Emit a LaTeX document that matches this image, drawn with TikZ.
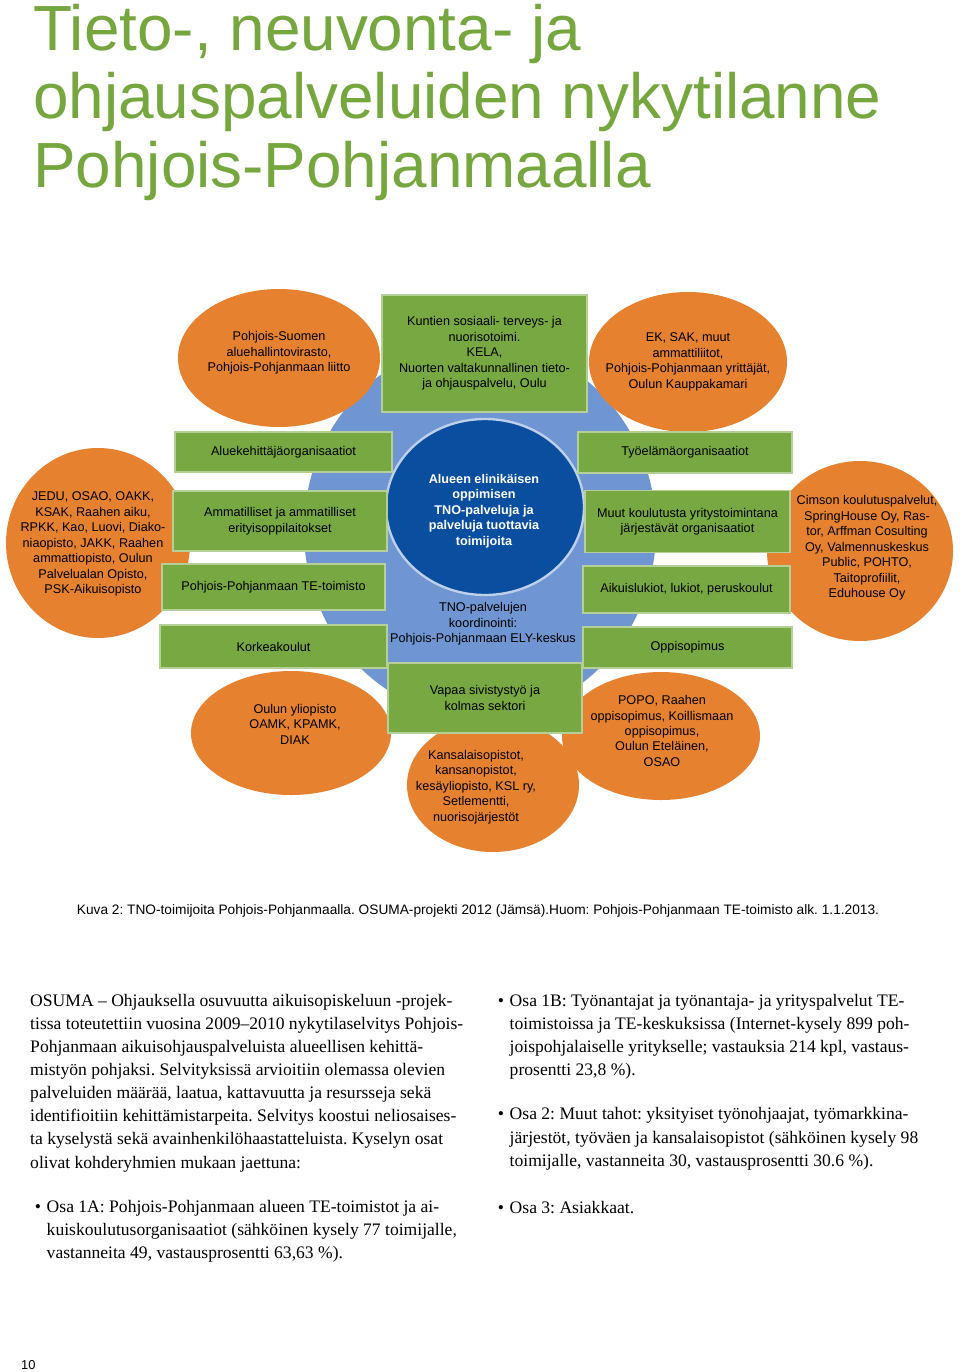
\documentclass[tikz,border=0pt]{standalone}
\usepackage{fontspec}
\setmainfont{Liberation Sans}
\newfontfamily\bodyfont{Liberation Serif}
\usetikzlibrary{shapes.geometric}
\frenchspacing

\definecolor{titlegreen}{RGB}{118,166,62}
\definecolor{tnogreen}{RGB}{119,168,66}
\definecolor{tnoorange}{RGB}{230,129,48}
\definecolor{tnoblue}{RGB}{10,78,160}
\definecolor{tnolight}{RGB}{111,150,210}

\begin{document}
\begin{tikzpicture}[x=0.03cm, y=-0.03cm,
  dtxt/.style={font=\fontsize{10.8}{13.2}\selectfont, align=center, inner sep=0pt},
  greenbox/.style={dtxt, rectangle, fill=tnogreen, draw=tnogreen!55!white, line width=1pt},
  blob/.style={ellipse, fill=tnoorange, inner sep=0pt},
  body/.style={font=\bodyfont\fontsize{15}{19.7}\selectfont, align=left, anchor=north west, inner sep=0pt},
  bulletmark/.style={font=\bodyfont\fontsize{15}{19.7}\selectfont, anchor=base, inner sep=0pt}]
  % page
  \fill[white] (0,0) rectangle (960,1372);
  \useasboundingbox (0,0) rectangle (960,1372);
  % title
  \node[anchor=north west, inner sep=0pt, align=left, text=titlegreen,
    font=\fontsize{54.5}{58.3}\selectfont] (title) at (33,4)
    {Tieto-, neuvonta- ja\\ohjauspalveluiden nykytilanne\\Pohjois-Pohjanmaalla};

  % blue background
  \node[ellipse, fill=tnolight, inner sep=0pt, minimum width=10.56cm, minimum height=11.28cm] (ring) at (480,530) {};
  \node[rectangle, fill=tnolight, inner sep=0pt, minimum width=5.85cm, minimum height=3.09cm] (coord) at (484.5,611.5) {};

  % orange groups
  \node[blob, minimum width=6.06cm, minimum height=4.14cm] (avi) at (279,358) {};
  \node[blob, minimum width=5.94cm, minimum height=4.2cm] (ek) at (688,362) {};
  \node[blob, minimum width=5.52cm, minimum height=5.7cm] (jedu) at (98,543) {};
  \node[blob, minimum width=5.58cm, minimum height=5.4cm] (cimson) at (860,551) {};
  \node[blob, minimum width=6.0cm, minimum height=3.72cm] (yliopisto) at (291,733) {};
  \node[blob, minimum width=5.16cm, minimum height=4.02cm] (kansal) at (493,785) {};
  \node[blob, minimum width=5.94cm, minimum height=3.84cm] (popo) at (661,736) {};

  % core
  \node[ellipse, fill=tnoblue, draw=white!55!tnolight, line width=2pt, inner sep=0pt,
    minimum width=5.94cm, minimum height=5.28cm] (core) at (485,507) {};

  % green boxes
  \node[greenbox, minimum width=6.15cm, minimum height=3.51cm] (kunnat) at (484.5,353.5)
    {Kuntien sosiaali- terveys- ja\\nuorisotoimi.\\KELA,\\Nuorten valtakunnallinen tieto-\\ja ohjauspalvelu, Oulu};
  \node[greenbox, minimum width=6.51cm, minimum height=1.2cm] (alueke) at (283.5,452) {Aluekehittäjäorganisaatiot};
  \node[greenbox, minimum width=6.42cm, minimum height=1.8cm] (ammat) at (280,521) {Ammatilliset ja ammatilliset\\erityisoppilaitokset};
  \node[greenbox, minimum width=6.69cm, minimum height=1.38cm] (tetoim) at (273.5,587) {Pohjois-Pohjanmaan TE-toimisto};
  \node[greenbox, minimum width=6.81cm, minimum height=1.29cm] (korkea) at (273.5,646.5) {Korkeakoulut};
  \node[greenbox, minimum width=6.42cm, minimum height=1.23cm] (tyoel) at (685,452.5) {Työelämäorganisaatiot};
  \node[greenbox, minimum width=6.15cm, minimum height=1.86cm] (muut) at (687.5,521.5) {Muut koulutusta yritystoimintana\\järjestävät organisaatiot};
  \node[greenbox, minimum width=6.21cm, minimum height=1.41cm] (aikuis) at (686.5,589.5) {Aikuislukiot, lukiot, peruskoulut};
  \node[greenbox, minimum width=6.27cm, minimum height=1.23cm] (oppiso) at (687.5,647.5) {Oppisopimus};
  \node[greenbox, minimum width=5.82cm, minimum height=2.1cm] (vapaa) at (485,698) {Vapaa sivistystyö ja\\kolmas sektori};

  % texts
  \node[dtxt, font={\fontsize{10.8}{13.2}\selectfont\bfseries}, text=white] (coretxt) at (484,511)
    {Alueen elinikäisen\\oppimisen\\TNO-palveluja ja\\palveluja tuottavia\\toimijoita};
  \node[dtxt] (coordtxt) at (483,624) {TNO-palvelujen\\koordinointi:\\Pohjois-Pohjanmaan ELY-keskus};
  \node[dtxt] (avitxt) at (279,353) {Pohjois-Suomen\\aluehallintovirasto,\\Pohjois-Pohjanmaan liitto};
  \node[dtxt] (ektxt) at (688,362) {EK, SAK, muut\\ammattiliitot,\\Pohjois-Pohjanmaan yrittäjät,\\Oulun Kauppakamari};
  \node[dtxt] (jedutxt) at (93,544) {JEDU, OSAO, OAKK,\\KSAK, Raahen aiku,\\RPKK, Kao, Luovi, Diako-\\niaopisto, JAKK, Raahen\\ammattiopisto, Oulun\\Palvelualan Opisto,\\PSK-Aikuisopisto};
  \node[dtxt] (cimsontxt) at (867,548) {Cimson koulutuspalvelut,\\SpringHouse Oy, Ras-\\tor, Arffman Cosulting\\Oy, Valmennuskeskus\\Public, POHTO,\\Taitoprofiilit,\\Eduhouse Oy};
  \node[dtxt] (yliopistotxt) at (295,724) {Oulun yliopisto\\OAMK, KPAMK,\\DIAK};
  \node[dtxt] (kansaltxt) at (476,787) {Kansalaisopistot,\\kansanopistot,\\kesäyliopisto, KSL ry,\\Setlementti,\\nuorisojärjestöt};
  \node[dtxt] (popotxt) at (662,731) {POPO, Raahen\\oppisopimus, Koillismaan\\oppisopimus,\\Oulun Eteläinen,\\OSAO};

  % caption
  \node[font=\fontsize{11.7}{14}\selectfont, inner sep=0pt] (caption) at (478,911)
    {Kuva 2: TNO-toimijoita Pohjois-Pohjanmaalla. OSUMA-projekti 2012 (Jämsä).Huom: Pohjois-Pohjanmaan TE-toimisto alk. 1.1.2013.};

  % body text
  \node[body] (intro) at (30,994) {OSUMA – Ohjauksella osuvuutta aikuisopiskeluun -projek-\\tissa toteutettiin vuosina 2009–2010 nykytilaselvitys Pohjois-\\Pohjanmaan aikuisohjauspalveluista alueellisen kehittä-\\mistyön pohjaksi. Selvityksissä arvioitiin olemassa olevien\\palveluiden määrää, laatua, kattavuutta ja resursseja sekä\\identifioitiin kehittämistarpeita. Selvitys koostui neliosaises-\\ta kyselystä sekä avainhenkilöhaastatteluista. Kyselyn osat\\olivat kohderyhmien mukaan jaettuna:};
  \node[bulletmark] (b1a) at (38,1212) {•};
  \node[body] (osa1a) at (46.5,1200) {Osa 1A: Pohjois-Pohjanmaan alueen TE-toimistot ja ai-\\kuiskoulutusorganisaatiot (sähköinen kysely 77 toimijalle,\\vastanneita 49, vastausprosentti 63,63 \%).};
  \node[bulletmark] (b1b) at (501,1006.5) {•};
  \node[body] (osa1b) at (509.5,994) {Osa 1B: Työnantajat ja työnantaja- ja yrityspalvelut TE-\\toimistoissa ja TE-keskuksissa (Internet-kysely 899 poh-\\joispohjalaiselle yritykselle; vastauksia 214 kpl, vastaus-\\prosentti 23,8 \%).};
  \node[bulletmark] (b2) at (501,1119.5) {•};
  \node[body] (osa2) at (509.5,1107.5) {Osa 2: Muut tahot: yksityiset työnohjaajat, työmarkkina-\\järjestöt, työväen ja kansalaisopistot (sähköinen kysely 98\\toimijalle, vastanneita 30, vastausprosentti 30.6 \%).};
  \node[bulletmark] (b3) at (501,1213) {•};
  \node[body] (osa3) at (509.5,1201) {Osa 3: Asiakkaat.};

  % page number
  \node[font=\fontsize{11}{13}\selectfont, anchor=base west, inner sep=0pt] (pagenum) at (21,1369) {10};
\end{tikzpicture}
\end{document}
